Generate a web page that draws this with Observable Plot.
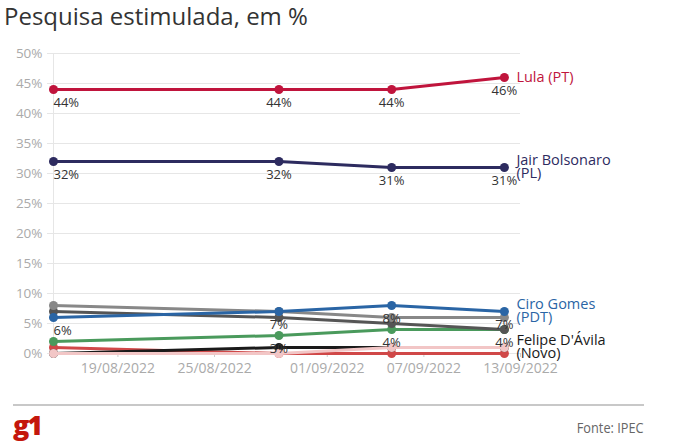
<!DOCTYPE html>
<html>
<head>
<meta charset="utf-8">
<script src="https://cdn.jsdelivr.net/npm/d3@7"></script>
<script src="https://cdn.jsdelivr.net/npm/@observablehq/plot@0.6"></script>
<style>
  html, body { margin: 0; padding: 0; background: #fff; }
  body { width: 678px; height: 448px; position: relative; overflow: hidden; font-family: "Open Sans", sans-serif; }
  #title { position: absolute; left: 4px; top: -1px; font-size: 24px; color: #333; font-weight: 400; white-space: nowrap; }
  #chart { position: absolute; left: 0; top: 35px; }
  #rule { position: absolute; left: 13px; top: 404px; width: 631px; height: 2px; background: #c8c8c8; }
  #logo { position: absolute; left: 13px; top: 406px; font-size: 27px; font-weight: 800; color: #c4170c; letter-spacing: -2px; font-family: "Open Sans", sans-serif; }
  #source { position: absolute; right: 34px; top: 417px; font-size: 15px; color: #666; transform: scaleX(0.85); transform-origin: right center; white-space: nowrap; }
</style>
</head>
<body>
<div id="title">Pesquisa estimulada, em %</div>
<div id="chart"></div>
<div id="rule"></div>
<div id="logo">g1</div>
<div id="source">Fonte: IPEC</div>
<script>
// ---- data ----
const dates = ["2022-08-15", "2022-08-29", "2022-09-05", "2022-09-12"];
const lula = [44, 44, 44, 46];
const bolsonaro = [32, 32, 31, 31];
const ciro = [6, 7, 8, 7];
const cinzaClaro = [8, 7, 6, 6];
const cinzaEscuro = [7, 6, 5, 4];
const verde = [2, 3, 4, 4];
const vermelho = [1, 0, 0, 0];
const preto = [0, 1, 1, 1];
const rosa = [0, 0, 1, 1];

const xTickDates = ["2022-08-19", "2022-08-25", "2022-09-01", "2022-09-07", "2022-09-13"];
const xDomain = ["2022-08-15", "2022-09-13"];
const yTicks = [0, 5, 10, 15, 20, 25, 30, 35, 40, 45, 50];

const seriesList = [
  {key: "vermelho", values: vermelho, color: "#d04848", label: null, showValues: []},
  {key: "preto", values: preto, color: "#1a1a1a", label: "Felipe D'Ávila\n(Novo)", showValues: []},
  {key: "rosa", values: rosa, color: "#f2c6c6", label: null, showValues: []},
  {key: "verde", values: verde, color: "#4a9a5c", label: null, showValues: [1, 2, 3]},
  {key: "cinzaEscuro", values: cinzaEscuro, color: "#555555", label: null, showValues: []},
  {key: "cinzaClaro", values: cinzaClaro, color: "#888888", label: null, showValues: []},
  {key: "ciro", values: ciro, color: "#2a65a5", label: "Ciro Gomes\n(PDT)", showValues: [0, 1, 2, 3]},
  {key: "bolsonaro", values: bolsonaro, color: "#2d2b5f", label: "Jair Bolsonaro\n(PL)", showValues: [0, 1, 2, 3]},
  {key: "lula", values: lula, color: "#c0143c", label: "Lula (PT)", showValues: [0, 1, 2, 3]}
];

const parse = d3.utcParse("%Y-%m-%d");
const rows = [];
for (const s of seriesList) {
  s.values.forEach((v, i) => rows.push({key: s.key, date: parse(dates[i]), value: v, i, color: s.color}));
}
const valueRows = [];
for (const s of seriesList) {
  for (const i of s.showValues) valueRows.push({date: parse(dates[i]), value: s.values[i], i, text: s.values[i] + "%"});
}
const endRows = seriesList.filter(s => s.label).map(s => ({
  date: parse(dates[dates.length - 1]), value: s.values[s.values.length - 1], text: s.label, color: s.color
}));

const marks = [
  Plot.ruleX([parse(xDomain[0])], {stroke: "#e6e6e6"})
];
for (const s of seriesList) {
  const data = rows.filter(r => r.key === s.key);
  marks.push(Plot.line(data, {x: "date", y: "value", stroke: s.color, strokeWidth: 3}));
  marks.push(Plot.dot(data, {x: "date", y: "value", fill: s.color, r: 4.5}));
}
marks.push(Plot.text(valueRows.filter(d => d.i === 0), {
  x: "date", y: "value", text: "text", dy: 13, textAnchor: "start", fill: "#333", fontSize: 13
}));
marks.push(Plot.text(valueRows.filter(d => d.i !== 0), {
  x: "date", y: "value", text: "text", dy: 13, textAnchor: "middle", fill: "#333", fontSize: 13
}));
marks.push(Plot.text(endRows, {
  x: "date", y: "value", text: "text", dx: 12, textAnchor: "start", fill: "color", fontSize: 14.5, lineHeight: 0.88
}));

const chart = Plot.plot({
  width: 678,
  height: 348,
  marginTop: 18,
  marginBottom: 30,
  marginLeft: 53,
  marginRight: 158,
  style: {fontFamily: "Open Sans, sans-serif", background: "transparent", overflow: "visible"},
  x: {type: "utc", domain: xDomain.map(parse)},
  y: {domain: [0, 50]},
  marks: [
    Plot.axisY(yTicks, {tickSize: 6, tickPadding: 5, stroke: "#e6e6e6", fill: "#aaa", fontSize: 13.5, tickFormat: d => d + "%", label: null}),
    Plot.gridY(yTicks, {stroke: "#e6e6e6", strokeOpacity: 1}),
    Plot.axisX(xTickDates.map(parse), {tickSize: 4, tickPadding: 6, stroke: "#ccc", fill: "#aaa", fontSize: 14, tickFormat: d3.utcFormat("%d/%m/%Y"), label: null}),
    ...marks
  ]
});
document.getElementById("chart").appendChild(chart);
</script>
</body>
</html>
